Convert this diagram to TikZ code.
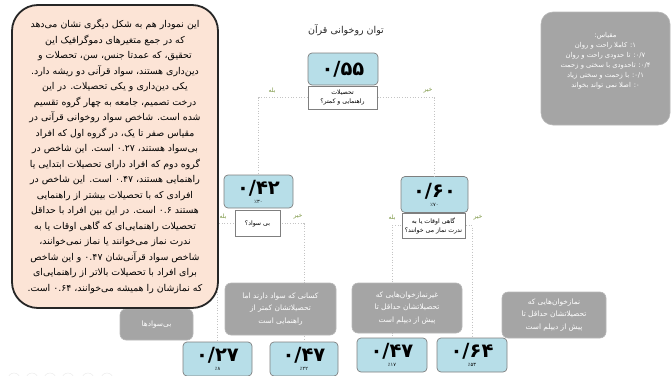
\documentclass[tikz,border=0pt]{standalone}
\usepackage{fontspec}
\setmainfont{DejaVu Sans}
\newfontfamily\fa[Script=Arabic]{DejaVu Sans}
\TeXXeTstate=1
\newcommand\rtlline[1]{\beginR #1\endR}
\definecolor{peachfill}{HTML}{FCE4D6}
\definecolor{peachline}{HTML}{262626}
\definecolor{boxblue}{HTML}{B7DEE8}
\definecolor{boxline}{HTML}{7F7F7F}
\definecolor{notegray}{HTML}{A5A5A5}
\definecolor{noteline}{HTML}{B8B8B8}
\definecolor{linegray}{HTML}{C4C4C4}
\definecolor{yesnocol}{HTML}{76923C}
\definecolor{titlecol}{HTML}{262626}
\tikzset{
  valbox/.style={draw=boxline, fill=boxblue, rounded corners=4pt, line width=0.7pt,
    minimum width=69pt, minimum height=33pt, inner sep=0pt, align=center},
  qbox/.style={draw=boxline, fill=white, line width=0.6pt, inner sep=0pt, align=center,
    font=\fa\fontsize{6.2}{9}\selectfont},
  notebox/.style={draw=noteline, fill=notegray, rounded corners=6pt, line width=0.6pt,
    text=white, inner sep=0pt, align=center, font=\fa\fontsize{7.4}{12.5}\selectfont},
  conn/.style={draw=linegray, dotted, line width=0.7pt},
  yesno/.style={text=yesnocol, inner sep=0pt, font=\fa\fontsize{6}{7}\selectfont},
}
\newcommand\valtext[2]{{\bfseries\fontsize{19.5}{21}\selectfont #1}\\[-3pt]{\fontsize{5}{6}\selectfont #2}}
\begin{document}
\begin{tikzpicture}[x=1pt,y=-1pt]
\useasboundingbox (0,0) rectangle (671,375);

% faint toolbar circles
\foreach \cx [count=\i] in {14,32,50,68,88,107}{
  \node[draw=black!8, circle, minimum size=12pt, inner sep=0pt, line width=0.5pt] (tb\i) at (\cx,379) {};
}

% title
\node[text=titlecol, font=\fa\fontsize{9.5}{11}\selectfont] (title) at (346,30) {\rtlline{توان روخوانی قرآن}};

% value boxes
\node[valbox, minimum width=70pt, minimum height=32pt] (n55) at (343,69)
  {{\fa\bfseries\fontsize{19.5}{21}\selectfont ۰/۵۵}};
\node[valbox] (n42) at (258.5,191.5) {\fa\valtext{۰/۴۲}{٪۳۰}};
\node[valbox, minimum width=67pt, minimum height=36pt] (n60) at (434.5,194.5) {\fa\valtext{۰/۶۰}{٪۷۰}};
\node[valbox, minimum height=34pt] (n27) at (217.5,359) {\fa\valtext{۰/۲۷}{٪۸}};
\node[valbox, minimum width=68pt, minimum height=34pt] (n47a) at (304,359) {\fa\valtext{۰/۴۷}{٪۲۲}};
\node[valbox, minimum width=70pt, minimum height=34pt] (n47b) at (392,355) {\fa\valtext{۰/۴۷}{٪۱۷}};
\node[valbox, minimum width=70pt, minimum height=34pt] (n64) at (472,355) {\fa\valtext{۰/۶۴}{٪۵۳}};

% question box positions (invisible anchors for connectors)
\coordinate (q55c) at (342.5,97.5);
\coordinate (q42c) at (257.5,223.5);
\coordinate (q60c) at (433.5,225.5);

% connectors
\draw[conn] (q55c) -| (n42);
\draw[conn] (q55c) -| (n60);
\draw[conn] (q42c) -| (n27);
\draw[conn] (q42c) -| (n47a);
\draw[conn] (q60c) -| (n47b);
\draw[conn] (q60c) -| (n64);

% question boxes over lines
\node[qbox, minimum width=69pt, minimum height=23pt] (q55) at (q55c)
  {\rtlline{تحصیلات}\\\rtlline{راهنمایی و کمتر؟}};
\node[qbox, minimum width=45pt, minimum height=26pt] (q42) at (q42c)
  {\rtlline{بی سواد؟}};
\node[qbox, minimum width=63pt, minimum height=25pt] (q60) at (q60c)
  {\rtlline{گاهی اوقات یا به}\\\rtlline{ندرت نماز می خوانند؟}};

% yes / no labels
\node[yesno] (y55) at (272,91) {\rtlline{بله}};
\node[yesno] (x55) at (428,91) {\rtlline{خیر}};
\node[yesno] (y42) at (223,217) {\rtlline{بله}};
\node[yesno] (x42) at (298,217) {\rtlline{خیر}};
\node[yesno] (y60) at (392,218) {\rtlline{بله}};
\node[yesno] (x60) at (478,218) {\rtlline{خیر}};

% grey notes
\node[notebox, minimum width=73pt, minimum height=31pt] (g1) at (156.5,324.5)
  {\rtlline{بی‌سوادها}};
\node[notebox, minimum width=111pt, minimum height=52pt] (g2) at (280.5,309)
  {\rtlline{کسانی که سواد دارند اما}\\\rtlline{تحصیلاتشان کمتر از}\\\rtlline{راهنمایی است}};
\node[notebox, minimum width=110pt, minimum height=50pt] (g3) at (407,308)
  {\rtlline{غیرنمازخوان‌هایی که}\\\rtlline{تحصیلاتشان حداقل تا}\\\rtlline{پیش از دیپلم است}};
\node[notebox, minimum width=104pt, minimum height=46pt] (g4) at (554,315)
  {\rtlline{نمازخوان‌هایی که}\\\rtlline{تحصیلاتشان حداقل تا}\\\rtlline{پیش از دیپلم است}};

% legend
\node[notebox, rounded corners=12pt, minimum width=129pt, minimum height=113pt] (legend) at (605.5,68.5) {};
\node[text=white, align=center, inner sep=0pt, font=\fa\fontsize{6.8}{10}\selectfont] (legendtxt) at (605.5,61)
  {\rtlline{مقیاس:}\\
   \rtlline{۱\kern0pt: کاملا راحت و روان}\\
   \rtlline{۰/۷\kern0pt: تا حدودی راحت و روان}\\
   \rtlline{۰/۴\kern0pt: تاحدودی با سختی و زحمت}\\
   \rtlline{۰/۱\kern0pt: با زحمت و سختی زیاد}\\
   \rtlline{۰\kern0pt: اصلا نمی تواند بخواند}};

% story box
\node[draw=peachline, fill=peachfill, line width=1.8pt, rounded corners=26pt,
      minimum width=206pt, minimum height=303pt, inner sep=0pt, align=center,
      text=black, font=\fa\fontsize{9.4}{15.5}\selectfont] (story) at (115,156.5)
  {\rtlline{این نمودار هم به شکل دیگری نشان می‌دهد}\\
   \rtlline{که در جمع متغیرهای دموگرافیک این}\\
   \rtlline{تحقیق، که عمدتا جنس، سن، تحصلات و}\\
   \rtlline{دین‌داری هستند، سواد قرآنی دو ریشه دارد.}\\
   \rtlline{یکی دین‌داری و یکی تحصیلات. در این}\\
   \rtlline{درخت تصمیم، جامعه به چهار گروه تقسیم}\\
   \rtlline{شده است. شاخص سواد روخوانی قرآنی در}\\
   \rtlline{مقیاس صفر تا یک، در گروه اول که افراد}\\
   \rtlline{بی‌سواد هستند، ۰.۲۷ است. این شاخص در}\\
   \rtlline{گروه دوم که افراد دارای تحصیلات ابتدایی یا}\\
   \rtlline{راهنمایی هستند، ۰.۴۷ است. این شاخص در}\\
   \rtlline{افرادی که با تحصیلات بیشتر از راهنمایی}\\
   \rtlline{هستند ۰.۶ است. در این بین افراد با حداقل}\\
   \rtlline{تحصیلات راهنمایی‌ای که گاهی اوقات یا به}\\
   \rtlline{ندرت نماز می‌خوانند یا نماز نمی‌خوانند،}\\
   \rtlline{شاخص سواد قرآنی‌شان ۰.۴۷ و این شاخص}\\
   \rtlline{برای افراد با تحصیلات بالاتر از راهنمایی‌ای}\\
   \rtlline{که نمازشان را همیشه می‌خوانند، ۰.۶۴ است.}};
\end{tikzpicture}
\end{document}
